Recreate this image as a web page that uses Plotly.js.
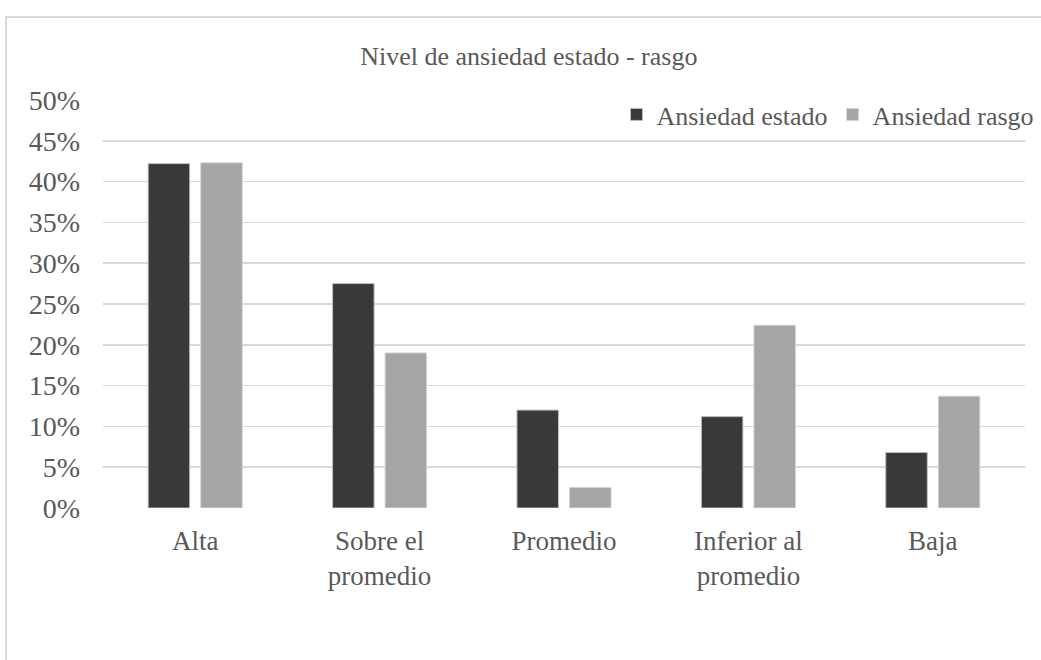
<!DOCTYPE html>
<html>
<head>
<meta charset="utf-8">
<script src="https://cdn.plot.ly/plotly-3.0.1.min.js"></script>
<style>
  html, body { margin: 0; padding: 0; background: #ffffff; overflow: hidden; }
  #frame { position: absolute; left: 5px; top: 16px; width: 1100px; height: 700px; border: 2px solid #d9d9d9; box-sizing: border-box; }
  #chart { position: absolute; left: 0; top: 0; width: 1041px; height: 660px; }
</style>
</head>
<body>
<div id="frame"></div>
<div id="chart"></div>
<script>
const categories = ["Alta", "Sobre el promedio", "Promedio", "Inferior al promedio", "Baja"];
const tickLabels = ["Alta", "Sobre el<br>promedio", "Promedio", "Inferior al<br>promedio", "Baja"];
const seriesNames = ["Ansiedad estado", "Ansiedad rasgo"];
const ansiedadEstado = [0.422, 0.275, 0.120, 0.112, 0.068];
const ansiedadRasgo  = [0.423, 0.190, 0.025, 0.224, 0.137];
const yTicks = [0, 0.05, 0.10, 0.15, 0.20, 0.25, 0.30, 0.35, 0.40, 0.45, 0.50];

const font = "Liberation Serif, Times New Roman, serif";
const textColor = "#595959";

const traces = [
  {
    type: "bar", name: seriesNames[0], x: categories, y: ansiedadEstado,
    marker: { color: "#3a3937", line: { color: "#bdbdbd", width: 1 } },
    hoverinfo: "skip"
  },
  {
    type: "bar", name: seriesNames[1], x: categories, y: ansiedadRasgo,
    marker: { color: "#a5a5a5", line: { color: "#d4d4d4", width: 1 } },
    hoverinfo: "skip"
  }
];

const layout = {
  width: 1041, height: 660,
  paper_bgcolor: "rgba(0,0,0,0)", plot_bgcolor: "rgba(0,0,0,0)",
  margin: { l: 103, r: 16, t: 100, b: 152, autoexpand: false },
  font: { family: font, color: textColor, size: 26 },
  title: {
    text: "Nivel de ansiedad estado - rasgo",
    font: { family: font, size: 26, color: textColor },
    x: 0.508, xanchor: "center", y: 1 - 56 / 660, yanchor: "middle", yref: "container"
  },
  barmode: "group", bargap: 0.43, bargroupgap: 0.21,
  xaxis: {
    type: "category", categoryorder: "array", categoryarray: categories,
    tickvals: categories, ticktext: tickLabels,
    showgrid: false, zeroline: false, showline: false, ticks: "",
    tickfont: { family: font, size: 27, color: textColor },
    ticklabelstandoff: 14
  },
  yaxis: {
    range: [0, 0.5], tickvals: yTicks, tickformat: ".0%",
    showgrid: true, gridcolor: "#d9d9d9", gridwidth: 1.5,
    zeroline: false, showline: false, ticks: "",
    tickfont: { family: font, size: 28, color: textColor },
    ticklabelstandoff: 22
  },
  legend: {
    orientation: "h", x: 1.0157, xanchor: "right", y: 1.022, yanchor: "top",
    font: { family: font, size: 26, color: textColor },
    bgcolor: "rgba(0,0,0,0)", itemwidth: 30, traceorder: "normal"
  },
  showlegend: true
};

Plotly.newPlot("chart", traces, layout, { displayModeBar: false, staticPlot: true });
</script>
</body>
</html>
